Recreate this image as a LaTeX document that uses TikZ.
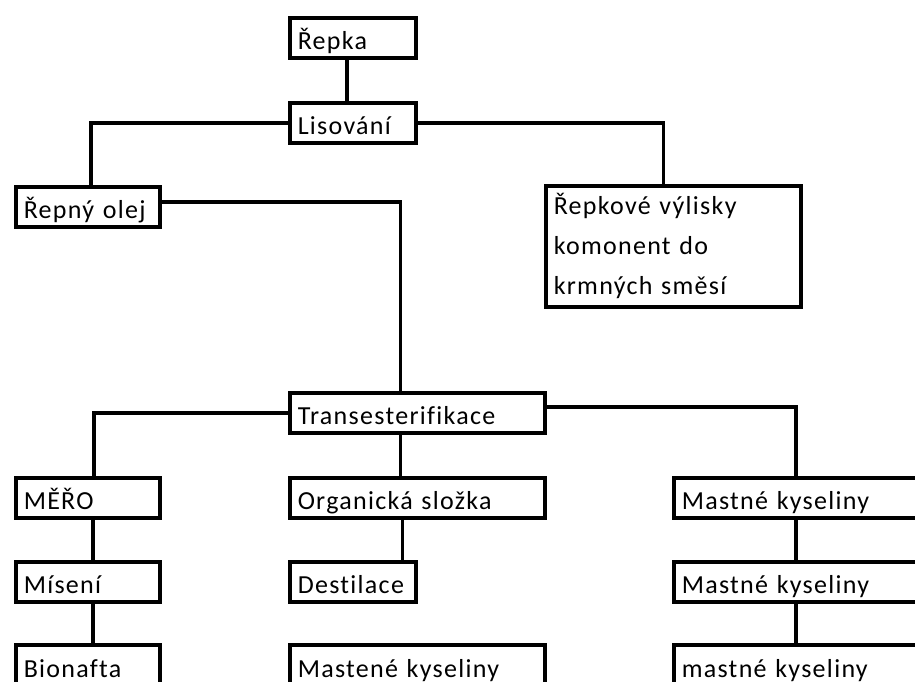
\documentclass[tikz,border=0pt]{standalone}
\usepackage{fontspec}
\setmainfont{Carlito}[Ligatures=NoCommon, LetterSpace=5]
\usetikzlibrary{positioning,calc}

\begin{document}
\begin{tikzpicture}[x=1pt, y=-1pt,
    box/.style={rectangle, draw, line width=3.5pt, anchor=north west, align=left, inner xsep=8pt, inner ysep=0pt, text height=27pt, text depth=4pt, font=\fontsize{26}{40}\selectfont},
    link/.style={line width=3.5pt}]
    \useasboundingbox (0,0) rectangle (915,681);
    \clip (0,0) rectangle (915,681);
    \node[box, text width=110pt, minimum height=40pt] (repka) at (288,16) {Řepka};
    \node[box, text width=110pt, minimum height=40pt] (lisovani) at (288,101) {Lisování};
    \node[box, text width=128pt, minimum height=40pt] (olej) at (14,185) {Řepný olej};
    \node[box, text width=239pt, minimum height=121pt, text height=, text depth=] (vylisky) at (544,184) {Řepkové výlisky\\komonent do\\krmných směsí};
    \node[box, text width=239pt, minimum height=40pt] (trans) at (288,391) {Transesterifikace};
    \node[box, text width=128pt, minimum height=40pt] (mero) at (14,476) {MĚŘO};
    \node[box, text width=239pt, minimum height=40pt] (organ) at (288,476) {Organická složka};
    \node[box, text width=244pt, minimum height=40pt] (mk1) at (672,476) {Mastné kyseliny};
    \node[box, text width=128pt, minimum height=40pt] (mix) at (14,560) {Mísení};
    \node[box, text width=110pt, minimum height=40pt] (destil) at (288,560) {Destilace};
    \node[box, text width=244pt, minimum height=40pt] (mk2) at (672,560) {Mastné kyseliny};
    \node[box, text width=128pt, minimum height=42pt] (bionafta) at (14,643) {Bionafta};
    \node[box, text width=239pt, minimum height=42pt] (mastene) at (288,643) {Mastené kyseliny};
    \node[box, text width=244pt, minimum height=42pt] (mk3) at (672,643) {mastné kyseliny};

    \draw[link] ([xshift=-6pt]repka.south) -- ([xshift=-6pt]lisovani.north);
    \draw[link] (lisovani.west) -| ([xshift=3pt]olej.north);
    \draw[link] (lisovani.east) -| ([xshift=-10pt]vylisky.north);
    \draw[link] ([yshift=5pt]olej.east) -| ([xshift=-17pt]trans.north);
    \draw[link] (trans.west) -| ([xshift=6pt]mero.north);
    \draw[link] ([yshift=6pt]trans.east) -| ([xshift=-8pt]mk1.north);
    \draw[link] ([xshift=-17pt]trans.south) -- ([xshift=-17pt]organ.north);
    \draw[link] ([xshift=-15pt]organ.south) -- ([xshift=-15pt]organ.south |- destil.north);
    \draw[link] ([xshift=5pt]mero.south) -- ([xshift=5pt]mix.north);
    \draw[link] ([xshift=5pt]mix.south) -- ([xshift=5pt]bionafta.north);
    \draw[link] ([xshift=-8pt]mk1.south) -- ([xshift=-8pt]mk2.north);
    \draw[link] ([xshift=-8pt]mk2.south) -- ([xshift=-8pt]mk3.north);
\end{tikzpicture}
\end{document}
